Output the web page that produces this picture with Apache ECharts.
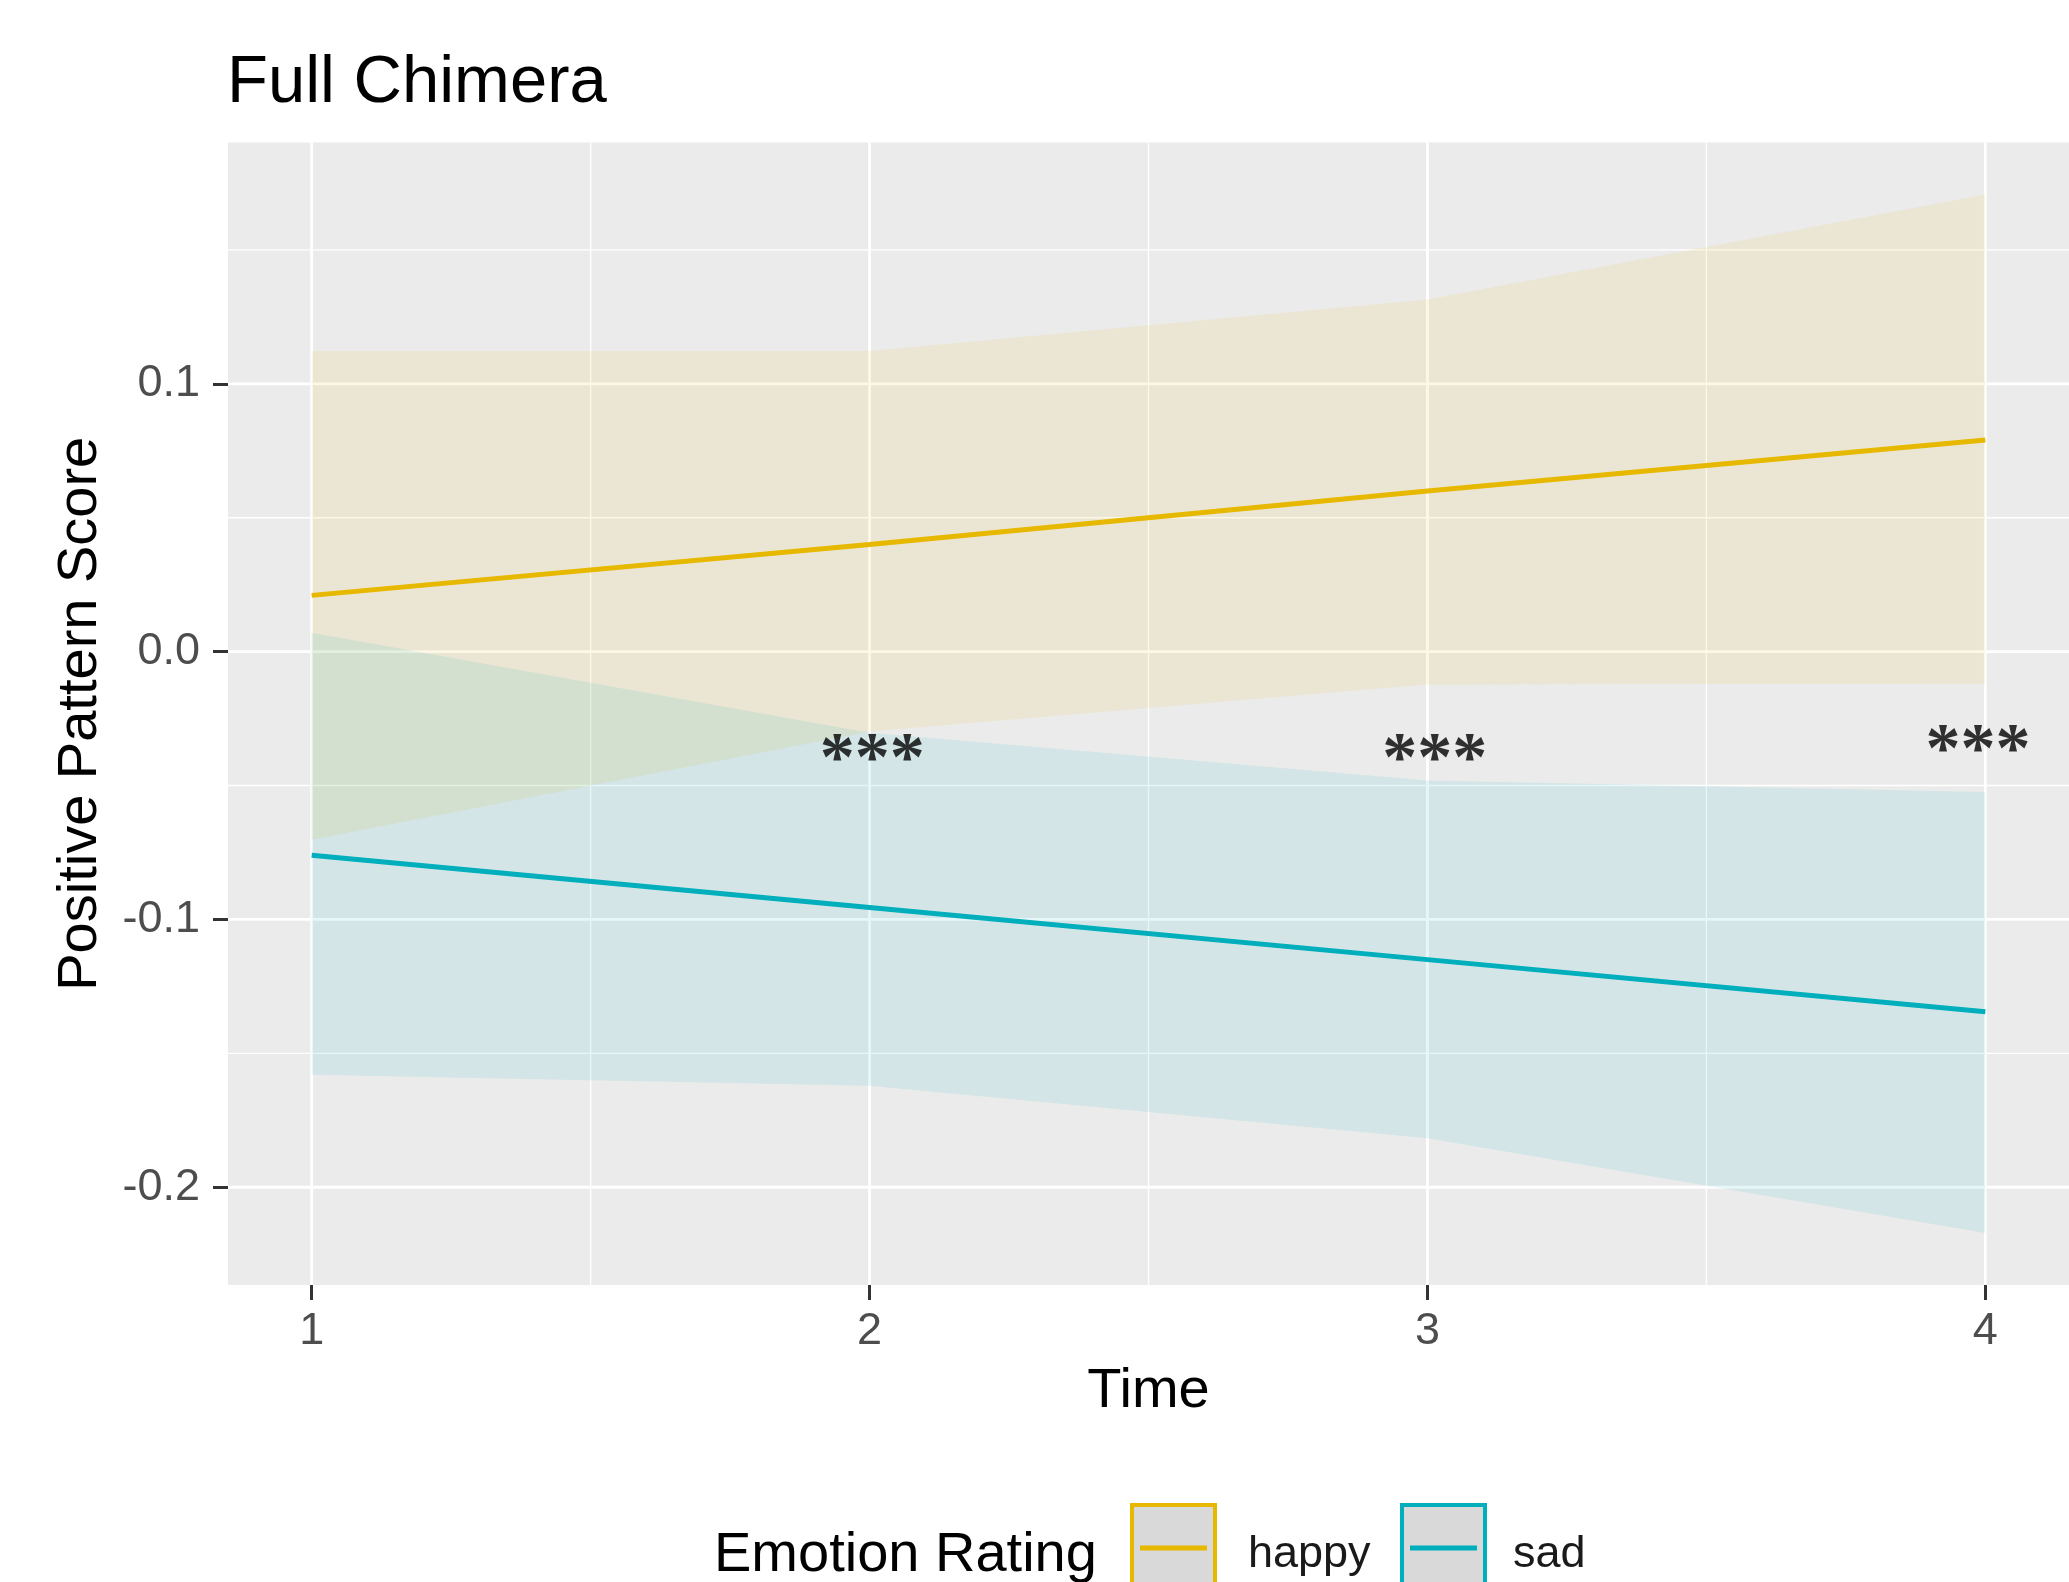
<!DOCTYPE html>
<html>
<head>
<meta charset="utf-8">
<script src="https://cdn.jsdelivr.net/npm/echarts@6/dist/echarts.min.js"></script>
<style>
  html, body { margin: 0; padding: 0; background: #ffffff; }
  #chart { width: 2069px; height: 1582px; }
</style>
</head>
<body>
<div id="chart"></div>
<script>
// Time points and fitted positive pattern scores with their confidence bands
const times = [1, 2, 3, 4];
const happyFit   = [0.021, 0.040, 0.060, 0.079];
const happyLower = [-0.0702, -0.0298, -0.0123, -0.0120];
const happyUpper = [0.1122, 0.1122, 0.1315, 0.1707];
const sadFit     = [-0.076, -0.0955, -0.115, -0.1345];
const sadLower   = [-0.158, -0.1621, -0.1817, -0.2171];
const sadUpper   = [0.0070, -0.0303, -0.0481, -0.0524];

// Axis ticks and gridlines
const xTicks = [1, 2, 3, 4];
const yTicks = [-0.2, -0.1, 0.0, 0.1];
const xMinor = [1.5, 2.5, 3.5];
const yMinor = [-0.15, -0.05, 0.05, 0.15];

// Significance markers
const sigX = [2.005, 3.013, 3.987];
const sigY = [-0.041, -0.041, -0.0377];
const sigText = '***';

const groups = ['happy', 'sad'];
const groupColors = ['#E7B800', '#00AFBB'];
const bandFills = ['rgba(231,184,0,0.1)', 'rgba(0,175,187,0.1)'];

// ggplot-style 5% expansion of the data range
const allY = happyLower.concat(happyUpper, sadLower, sadUpper);
const yLo = Math.min(...allY), yHi = Math.max(...allY);
const yPad = (yHi - yLo) * 0.05;
const xPad = (times[times.length - 1] - times[0]) * 0.05;
const xMin = times[0] - xPad, xMax = times[times.length - 1] + xPad;
const yMin = yLo - yPad, yMax = yHi + yPad;

const chart = echarts.init(document.getElementById('chart'), null, { renderer: 'canvas' });

function gridLineSeries(values, horizontal, width) {
  return {
    type: 'custom', silent: true, z: 1,
    data: values.map(v => horizontal ? [xMin, v] : [v, yMin]),
    renderItem(params, api) {
      const cs = params.coordSys;
      const p = api.coord([api.value(0), api.value(1)]);
      const shape = horizontal
        ? { x1: cs.x, y1: p[1], x2: cs.x + cs.width, y2: p[1] }
        : { x1: p[0], y1: cs.y, x2: p[0], y2: cs.y + cs.height };
      return { type: 'line', shape, style: { stroke: '#ffffff', lineWidth: width } };
    }
  };
}

function bandSeries(name, lower, upper, fill) {
  return {
    type: 'custom', name, silent: true, z: 2,
    data: times.map((t, i) => [t, lower[i], upper[i]]),
    encode: { x: 0, y: [1, 2] },
    renderItem(params, api) {
      if (params.dataIndex !== 0) return null;
      const top = times.map((t, i) => api.coord([t, upper[i]]));
      const bottom = times.map((t, i) => api.coord([t, lower[i]])).reverse();
      return { type: 'polygon', shape: { points: top.concat(bottom) }, style: { fill } };
    }
  };
}

function fitSeries(name, values, color) {
  return {
    type: 'line', name, z: 3, silent: true,
    data: times.map((t, i) => [t, values[i]]),
    showSymbol: false, symbol: 'none',
    lineStyle: { color, width: 5 }
  };
}

// Legend drawn as ggplot-style keys
const legendY = 1548;
const keyX = [1130, 1400];
const labelX = [1248, 1513];
const legendGraphics = [
  { type: 'text', left: 714, top: 1556 - 28,
    style: { text: 'Emotion Rating', font: '56px "Liberation Sans"', fill: '#000000' } }
];
groups.forEach((g, i) => {
  legendGraphics.push({
    type: 'rect', shape: { x: keyX[i] + 2, y: 1505, width: 83, height: 90 },
    style: { fill: '#D9D9D9', stroke: groupColors[i], lineWidth: 4 }
  });
  legendGraphics.push({
    type: 'line', shape: { x1: keyX[i] + 10, y1: legendY, x2: keyX[i] + 77, y2: legendY },
    style: { stroke: groupColors[i], lineWidth: 5 }
  });
  legendGraphics.push({
    type: 'text', left: labelX[i], top: 1555 - 22.5,
    style: { text: g, font: '45px "Liberation Sans"', fill: '#1a1a1a' }
  });
});

const option = {
  animation: false,
  backgroundColor: '#ffffff',
  textStyle: { fontFamily: 'Liberation Sans' },
  title: {
    text: 'Full Chimera', left: 222, top: 45,
    textStyle: { fontSize: 67, fontWeight: 'normal', color: '#000000', fontFamily: 'Liberation Sans' }
  },
  grid: {
    left: 228, top: 142.5, width: 1846, height: 1142.5,
    show: true, backgroundColor: '#EBEBEB', borderWidth: 0
  },
  xAxis: {
    type: 'value', min: xMin, max: xMax,
    axisLine: { show: false, onZero: false },
    axisTick: { show: true, customValues: xTicks, length: 15, lineStyle: { color: '#333333', width: 3 } },
    axisLabel: { customValues: xTicks, margin: 24, fontSize: 45, color: '#4D4D4D' },
    splitLine: { show: false },
    name: 'Time', nameLocation: 'middle', nameGap: 79,
    nameTextStyle: { fontSize: 56, color: '#000000' }
  },
  yAxis: {
    type: 'value', min: yMin, max: yMax,
    axisLine: { show: false, onZero: false },
    axisTick: { show: true, customValues: yTicks, length: 15, lineStyle: { color: '#333333', width: 3 } },
    axisLabel: { customValues: yTicks, margin: 28, fontSize: 45, color: '#4D4D4D',
      formatter: v => v.toFixed(1) },
    splitLine: { show: false },
    name: 'Positive Pattern Score', nameLocation: 'middle', nameRotate: 90, nameGap: 119,
    nameTextStyle: { fontSize: 56, color: '#000000' }
  },
  series: [
    gridLineSeries(yMinor, true, 1.4),
    gridLineSeries(xMinor, false, 1.4),
    gridLineSeries(yTicks, true, 2.8),
    gridLineSeries(xTicks, false, 2.8),
    bandSeries('happy band', happyLower, happyUpper, bandFills[0]),
    bandSeries('sad band', sadLower, sadUpper, bandFills[1]),
    fitSeries(groups[0], happyFit, groupColors[0]),
    fitSeries(groups[1], sadFit, groupColors[1]),
    {
      type: 'scatter', z: 4, silent: true, symbolSize: 0,
      data: sigX.map((x, i) => [x, sigY[i]]),
      label: { show: true, position: 'inside', formatter: sigText,
        fontFamily: 'Liberation Serif', fontWeight: 'bold', fontSize: 70, color: '#000000' }
    }
  ],
  graphic: legendGraphics
};

chart.setOption(option);
</script>
</body>
</html>
